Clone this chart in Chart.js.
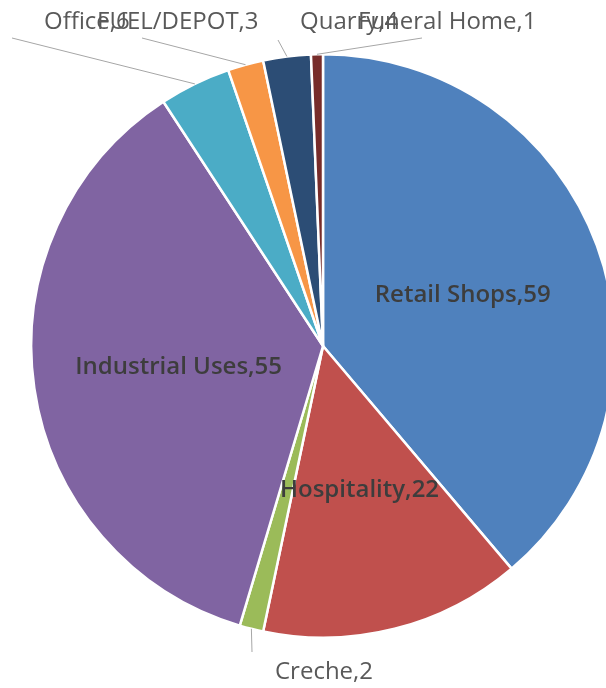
<!DOCTYPE html>
<html>
<head>
<meta charset="utf-8">
<script src="https://cdn.jsdelivr.net/npm/chart.js@4/dist/chart.umd.min.js"></script>
<style>
  html, body { margin: 0; padding: 0; background: #fff; overflow: hidden; }
  #wrap { position: relative; width: 646px; height: 688px; }
</style>
</head>
<body>
<div id="wrap"><canvas id="usesChart" width="646" height="688"></canvas></div>
<script>
const categories = ['Retail Shops', 'Hospitality', 'Creche', 'Industrial Uses', 'Office', 'FUEL/DEPOT', 'Quarry', 'Funeral Home'];
const counts = [59, 22, 2, 55, 6, 3, 4, 1];
const sliceColors = ['#4F81BD', '#C0504D', '#9BBB59', '#8064A2', '#4BACC6', '#F79646', '#2C4D75', '#772C2A'];

// where each label goes: inside the slice, or outside with a leader line
const labelPlacement = [
    { inside: true, frac: 0.51 },
    { inside: true, frac: 0.51 },
    { inside: false, x: 324, y: 672, align: 'center', lead: [252, 652] },
    { inside: true, frac: 0.50 },
    { inside: false, x: 44, y: 22, align: 'left', lead: [12, 38] },
    { inside: false, x: 97, y: 22, align: 'left', lead: [142, 38] },
    { inside: false, x: 300, y: 22, align: 'left', lead: [278, 40] },
    { inside: false, x: 358, y: 22, align: 'left', lead: [422, 38] }
];

const sliceLabels = {
    id: 'sliceLabels',
    afterDatasetsDraw(chart) {
        const ctx = chart.ctx;
        const arcs = chart.getDatasetMeta(0).data;
        ctx.save();
        ctx.textBaseline = 'middle';
        arcs.forEach((arc, i) => {
            const p = arc.getProps(['x', 'y', 'startAngle', 'endAngle', 'outerRadius']);
            const mid = (p.startAngle + p.endAngle) / 2;
            const place = labelPlacement[i];
            const text = categories[i] + ',' + counts[i];
            if (place.inside) {
                const r = p.outerRadius * place.frac;
                ctx.font = '600 24px "Open Sans"';
                ctx.fillStyle = '#3d3d3d';
                ctx.textAlign = 'center';
                ctx.fillText(text, p.x + Math.cos(mid) * r, p.y + Math.sin(mid) * r);
            } else {
                const ex = p.x + Math.cos(mid) * p.outerRadius;
                const ey = p.y + Math.sin(mid) * p.outerRadius;
                ctx.strokeStyle = '#a6a6a6';
                ctx.lineWidth = 1;
                ctx.beginPath();
                ctx.moveTo(place.lead[0], place.lead[1]);
                ctx.lineTo(ex, ey);
                ctx.stroke();
                ctx.font = '24px "Open Sans"';
                ctx.fillStyle = '#595959';
                ctx.textAlign = place.align;
                ctx.fillText(text, place.x, place.y);
            }
        });
        ctx.restore();
    }
};

new Chart(document.getElementById('usesChart'), {
    type: 'pie',
    data: {
        labels: categories,
        datasets: [{
            data: counts,
            backgroundColor: sliceColors,
            borderColor: '#ffffff',
            borderWidth: 2.5,
            hoverOffset: 0
        }]
    },
    options: {
        responsive: false,
        animation: false,
        layout: { padding: { top: 53, bottom: 49, left: 0, right: 0 } },
        plugins: {
            legend: { display: false },
            tooltip: { enabled: false }
        }
    },
    plugins: [sliceLabels]
});
</script>
</body>
</html>
